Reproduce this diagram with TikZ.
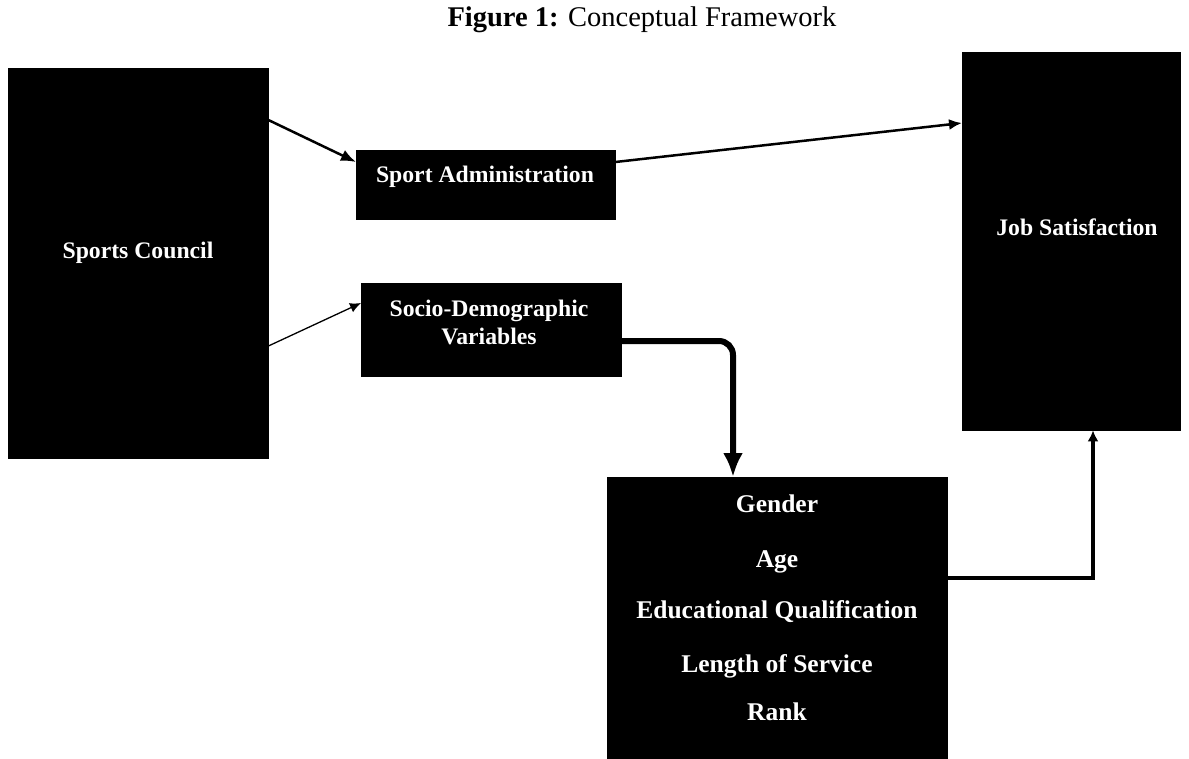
\documentclass[tikz,border=0pt]{standalone}
\usepackage{fontspec}
\setmainfont{Liberation Serif}
\usetikzlibrary{arrows.meta}
\tikzset{
  blk/.style={fill=black, draw=black, anchor=north west, inner sep=0pt},
  lbl/.style={text=white, font=\bfseries\fontsize{23.7}{28}\selectfont, align=center, inner sep=0pt},
  lblg/.style={text=white, font=\bfseries\fontsize{25.5}{30}\selectfont, align=center, inner sep=0pt, anchor=base},
  conn/.style={draw=black, line join=miter},
}
\begin{document}
\begin{tikzpicture}[x=1pt,y=-1pt]
\useasboundingbox (0,0) rectangle (1189,758);
\fill[white] (0,0) rectangle (1189,758);
% title
\node[anchor=base, inner sep=0pt, font=\fontsize{28.5}{33}\selectfont] (title) at (642,26) {\textbf{Figure 1:} Conceptual Framework};
% boxes
\node[blk, minimum width=260pt, minimum height=390pt] (sc) at (8,68) {};
\node[blk, minimum width=259pt, minimum height=69pt] (sa) at (356,150) {};
\node[blk, minimum width=260pt, minimum height=93pt] (sd) at (361,283) {};
\node[blk, minimum width=218pt, minimum height=378pt] (js) at (962,52) {};
\node[blk, minimum width=340pt, minimum height=285pt] (gb) at (607,477) {};
% labels
\node[lbl, anchor=base] (scT) at (138,258) {Sports Council};
\node[lbl, anchor=base] (saT) at (485,182) {Sport Administration};
\node[lbl, anchor=base] (sdT1) at (489,316) {Socio-Demographic};
\node[lbl, anchor=base] (sdT2) at (489,344) {Variables};
\node[lbl, anchor=base] (jsT) at (1077,235) {Job Satisfaction};
\node[lblg] (g1) at (777,512) {Gender};
\node[lblg] (g2) at (777,567) {Age};
\node[lblg] (g3) at (777,618) {Educational Qualification};
\node[lblg] (g4) at (777,672) {Length of Service};
\node[lblg] (g5) at (777,720) {Rank};
% connectors
\draw[conn, line width=2.5pt, -{Latex[length=15pt,width=12pt]}] (sc.east |- 0,120) -- (sa.west |- 0,162);
\draw[conn, line width=1.3pt, -{Latex[length=11pt,width=10pt]}] (sc.east |- 0,346) -- (sd.west |- 0,303);
\draw[conn, line width=2.5pt, -{Latex[length=13pt,width=11pt]}] (sa.east |- 0,162) -- (js.west |- 0,123);
\coordinate (sdc) at (733,341);
\draw[conn, line width=6pt, rounded corners=14pt, -{Latex[length=24pt,width=20pt]}] (sd.east |- sdc) -- (sdc) -- (gb.north -| sdc);
\coordinate (gjc) at (1093,578);
\draw[conn, line width=3.5pt, -{Latex[length=11pt,width=11pt]}] (gb.east |- gjc) -- (gjc) -- (gjc |- js.south);
\end{tikzpicture}
\end{document}
